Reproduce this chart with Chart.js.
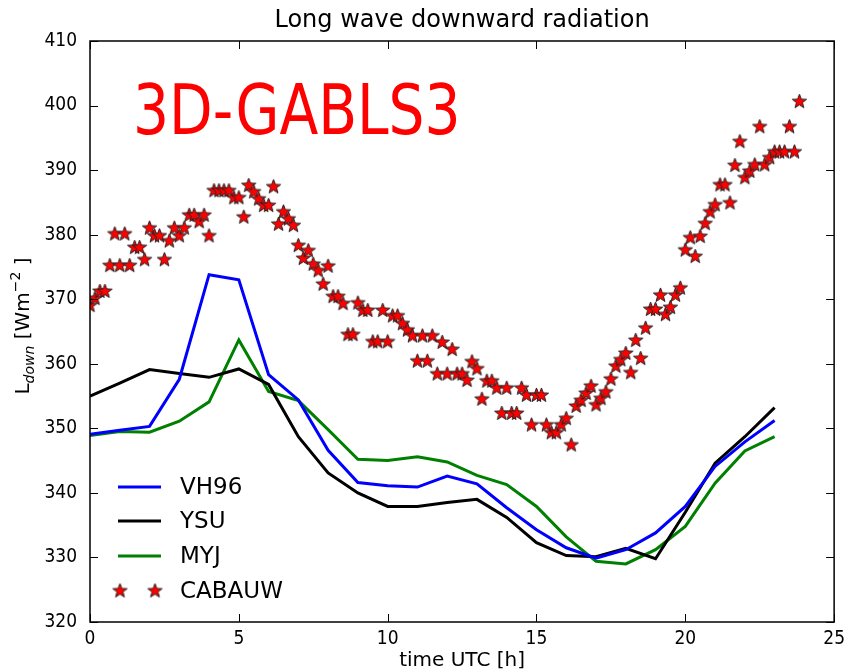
<!DOCTYPE html>
<html>
<head>
<meta charset="utf-8">
<script src="https://cdn.jsdelivr.net/npm/chart.js@4"></script>
<style>
  body { margin: 0; background: #fff; }
  canvas { display: block; }
</style>
</head>
<body>
<canvas id="lwChart" width="851" height="671"></canvas>
<script>
// hourly model output (UTC hours)
const hours = [0, 1, 2, 3, 4, 5, 6, 7, 8, 9, 10, 11, 12, 13, 14, 15, 16, 17, 18, 19, 20, 21, 22, 23];
const vh96 = [349.1, 349.7, 350.3, 357.6, 373.8, 373.0, 358.3, 354.4, 346.6, 341.6, 341.1, 340.9,
              342.6, 341.4, 337.7, 334.3, 331.5, 329.9, 331.2, 333.8, 337.9, 344.1, 347.9, 351.2];
const ysu = [355.0, 357.0, 359.1, 358.5, 357.9, 359.2, 356.8, 348.7, 343.1, 340.0, 337.9, 337.9,
             338.5, 339.0, 336.2, 332.3, 330.3, 330.1, 331.4, 329.8, 337.0, 344.6, 348.7, 353.2];
const myj = [348.9, 349.5, 349.4, 351.1, 354.1, 363.7, 355.7, 354.3, 349.8, 345.2, 345.0, 345.6,
             344.8, 342.7, 341.3, 337.9, 333.2, 329.4, 329.0, 331.2, 334.8, 341.5, 346.5, 348.7];

// Cabauw observations, every 10 minutes from 00:00
const cabauwStepHours = 1 / 6;
const cabauw = [
  369.0, 370.1, 371.2, 371.2, 375.2, 380.1, 375.2, 380.1, 375.2, 378.0,
  378.0, 376.1, 381.0, 379.8, 379.8, 376.1, 379.0, 381.0, 379.8, 381.0,
  383.0, 383.0, 382.0, 383.0, 379.8, 386.8, 386.8, 386.8, 386.8, 385.7,
  385.7, 382.7, 387.6, 386.6, 385.5, 384.5, 384.5, 387.4, 381.6, 383.5,
  382.4, 381.4, 378.3, 376.3, 377.5, 375.4, 374.4, 372.3, 375.1, 370.4,
  370.4, 369.3, 364.5, 364.5, 369.4, 368.25, 368.25, 363.4, 363.4, 368.25,
  363.4, 367.4, 367.4, 366.2, 365.2, 364.3, 360.4, 364.3, 360.4, 364.3,
  358.4, 363.3, 358.4, 362.2, 358.4, 358.4, 357.4, 360.3, 359.2, 354.5,
  357.3, 357.3, 356.2, 352.3, 356.2, 352.3, 352.3, 356.2, 355.1, 350.5,
  355.1, 355.1, 350.5, 349.3, 349.3, 350.5, 351.5, 347.4, 353.4, 354.3,
  355.4, 356.5, 353.6, 354.6, 355.6, 357.6, 359.6, 360.6, 361.6, 358.6,
  363.6, 360.8, 365.5, 368.4, 368.4, 370.6, 367.6, 368.7, 370.6, 371.7,
  377.6, 379.5, 376.6, 379.7, 381.7, 383.5, 384.6, 387.7, 387.7, 384.9,
  390.7, 394.4, 388.8, 389.8, 390.8, 396.7, 390.8, 391.9, 392.8, 392.8,
  392.8, 396.7, 392.8, 400.6
];

const xTicks = [0, 5, 10, 15, 20, 25];
const yTicks = [320, 330, 340, 350, 360, 370, 380, 390, 400, 410];
const seriesNames = ['VH96', 'YSU', 'MYJ', 'CABAUW'];
const seriesColors = ['#0000ff', '#000000', '#008000', '#ff0000'];

const FONT = "'DejaVu Sans Condensed', 'DejaVu Sans', sans-serif";
const WIDE = "'DejaVu Sans', sans-serif";

// filled red star marker
function makeStar(r) {
    const c = document.createElement('canvas');
    const s = Math.ceil(r * 2 + 4);
    c.width = s; c.height = s;
    const g = c.getContext('2d');
    g.beginPath();
    for (let i = 0; i < 10; i++) {
        const rr = i % 2 === 0 ? r : r * 0.42;
        const a = -Math.PI / 2 + i * Math.PI / 5;
        const px = s / 2 + rr * Math.cos(a), py = s / 2 + rr * Math.sin(a);
        if (i === 0) g.moveTo(px, py); else g.lineTo(px, py);
    }
    g.closePath();
    g.fillStyle = '#ff0000';
    g.fill();
    g.lineWidth = 1;
    g.strokeStyle = '#222';
    g.stroke();
    return c;
}
const starImg = makeStar(7.5);

function pairs(xs, ys) {
    return ys.map((v, i) => ({ x: xs[i], y: v }));
}

const decor = {
    id: 'decor',
    afterDraw(chart) {
        const { ctx, chartArea: a, scales: { x, y } } = chart;
        ctx.save();
        // frame
        ctx.strokeStyle = '#000';
        ctx.lineWidth = 1.5;
        ctx.strokeRect(a.left, a.top, a.right - a.left, a.bottom - a.top);
        // inward ticks on all four sides
        ctx.lineWidth = 1;
        xTicks.forEach(t => {
            const px = Math.round(x.getPixelForValue(t)) + 0.5;
            ctx.beginPath();
            ctx.moveTo(px, a.bottom); ctx.lineTo(px, a.bottom - 8);
            ctx.moveTo(px, a.top); ctx.lineTo(px, a.top + 8);
            ctx.stroke();
        });
        yTicks.forEach(t => {
            const py = Math.round(y.getPixelForValue(t)) + 0.5;
            ctx.beginPath();
            ctx.moveTo(a.left, py); ctx.lineTo(a.left + 8, py);
            ctx.moveTo(a.right, py); ctx.lineTo(a.right - 8, py);
            ctx.stroke();
        });

        ctx.fillStyle = '#000';
        // title
        ctx.font = '24px ' + WIDE;
        ctx.textAlign = 'center';
        ctx.textBaseline = 'alphabetic';
        ctx.fillText('Long wave downward radiation', (a.left + a.right) / 2, 27);
        // x label
        ctx.font = '20px ' + WIDE;
        ctx.fillText('time UTC [h]', (a.left + a.right) / 2, 666);

        // y label with sub/superscript
        ctx.save();
        ctx.translate(29, 326);
        ctx.rotate(-Math.PI / 2);
        ctx.textAlign = 'left';
        const parts = [
            { t: 'L', f: '20px ' + WIDE, dy: 0 },
            { t: 'down', f: 'italic 14px ' + WIDE, dy: 5 },
            { t: ' [Wm', f: '20px ' + WIDE, dy: 0 },
            { t: '\u22122', f: '14px ' + WIDE, dy: -9 },
            { t: ' ]', f: '20px ' + WIDE, dy: 0 }
        ];
        let total = 0;
        parts.forEach(p => { ctx.font = p.f; total += ctx.measureText(p.t).width; });
        let cx = -total / 2;
        parts.forEach(p => {
            ctx.font = p.f;
            ctx.fillText(p.t, cx, p.dy);
            cx += ctx.measureText(p.t).width;
        });
        ctx.restore();

        // big red label
        ctx.save();
        ctx.fillStyle = '#ff0000';
        ctx.font = '70px ' + FONT;
        ctx.textAlign = 'left';
        ctx.translate(133, 134);
        ctx.scale(0.9, 1);
        ctx.fillText('3D-GABLS3', 0, 0);
        ctx.restore();

        // legend inside the plot, lower left
        const rows = [487, 521, 556, 591];
        ctx.font = '23px ' + WIDE;
        ctx.textAlign = 'left';
        ctx.textBaseline = 'middle';
        seriesNames.forEach((name, i) => {
            const ly = rows[i];
            if (i < 3) {
                ctx.strokeStyle = seriesColors[i];
                ctx.lineWidth = 3;
                ctx.beginPath();
                ctx.moveTo(118, ly); ctx.lineTo(161, ly);
                ctx.stroke();
            } else {
                ctx.drawImage(starImg, 120 - starImg.width / 2, ly - starImg.height / 2);
                ctx.drawImage(starImg, 155 - starImg.width / 2, ly - starImg.height / 2);
            }
            ctx.fillStyle = '#000';
            ctx.fillText(name, 180, ly + 1);
        });
        ctx.restore();
    }
};

const lineSet = (label, data, color) => ({
    label: label,
    data: pairs(hours, data),
    showLine: true,
    borderColor: color,
    backgroundColor: color,
    borderWidth: 3,
    pointRadius: 0,
    tension: 0
});

const ctx = document.getElementById('lwChart').getContext('2d');
new Chart(ctx, {
    type: 'scatter',
    data: {
        datasets: [
            {
                label: seriesNames[3],
                data: cabauw.map((v, i) => ({ x: i * cabauwStepHours, y: v })),
                showLine: false,
                pointStyle: starImg,
                pointRadius: 8
            },
            lineSet(seriesNames[0], vh96, seriesColors[0]),
            lineSet(seriesNames[1], ysu, seriesColors[1]),
            lineSet(seriesNames[2], myj, seriesColors[2])
        ]
    },
    options: {
        responsive: false,
        animation: false,
        events: [],
        layout: { padding: { top: 41, right: 8, left: 0, bottom: 0 } },
        plugins: {
            legend: { display: false },
            tooltip: { enabled: false },
            title: { display: false }
        },
        scales: {
            x: {
                type: 'linear',
                min: 0, max: 25,
                afterFit(scale) { scale.height = 49; },
                afterBuildTicks(scale) { scale.ticks = xTicks.map(v => ({ value: v })); },
                grid: { display: false, drawTicks: false },
                border: { display: false },
                ticks: { color: '#000', padding: 6, font: { family: FONT, size: 19 }, maxRotation: 0 }
            },
            y: {
                type: 'linear',
                min: 320, max: 410,
                afterFit(scale) { scale.width = 90; },
                afterBuildTicks(scale) { scale.ticks = yTicks.map(v => ({ value: v })); },
                grid: { display: false, drawTicks: false },
                border: { display: false },
                ticks: { color: '#000', padding: 13, font: { family: FONT, size: 19 } }
            }
        }
    },
    plugins: [decor]
});
</script>
</body>
</html>
